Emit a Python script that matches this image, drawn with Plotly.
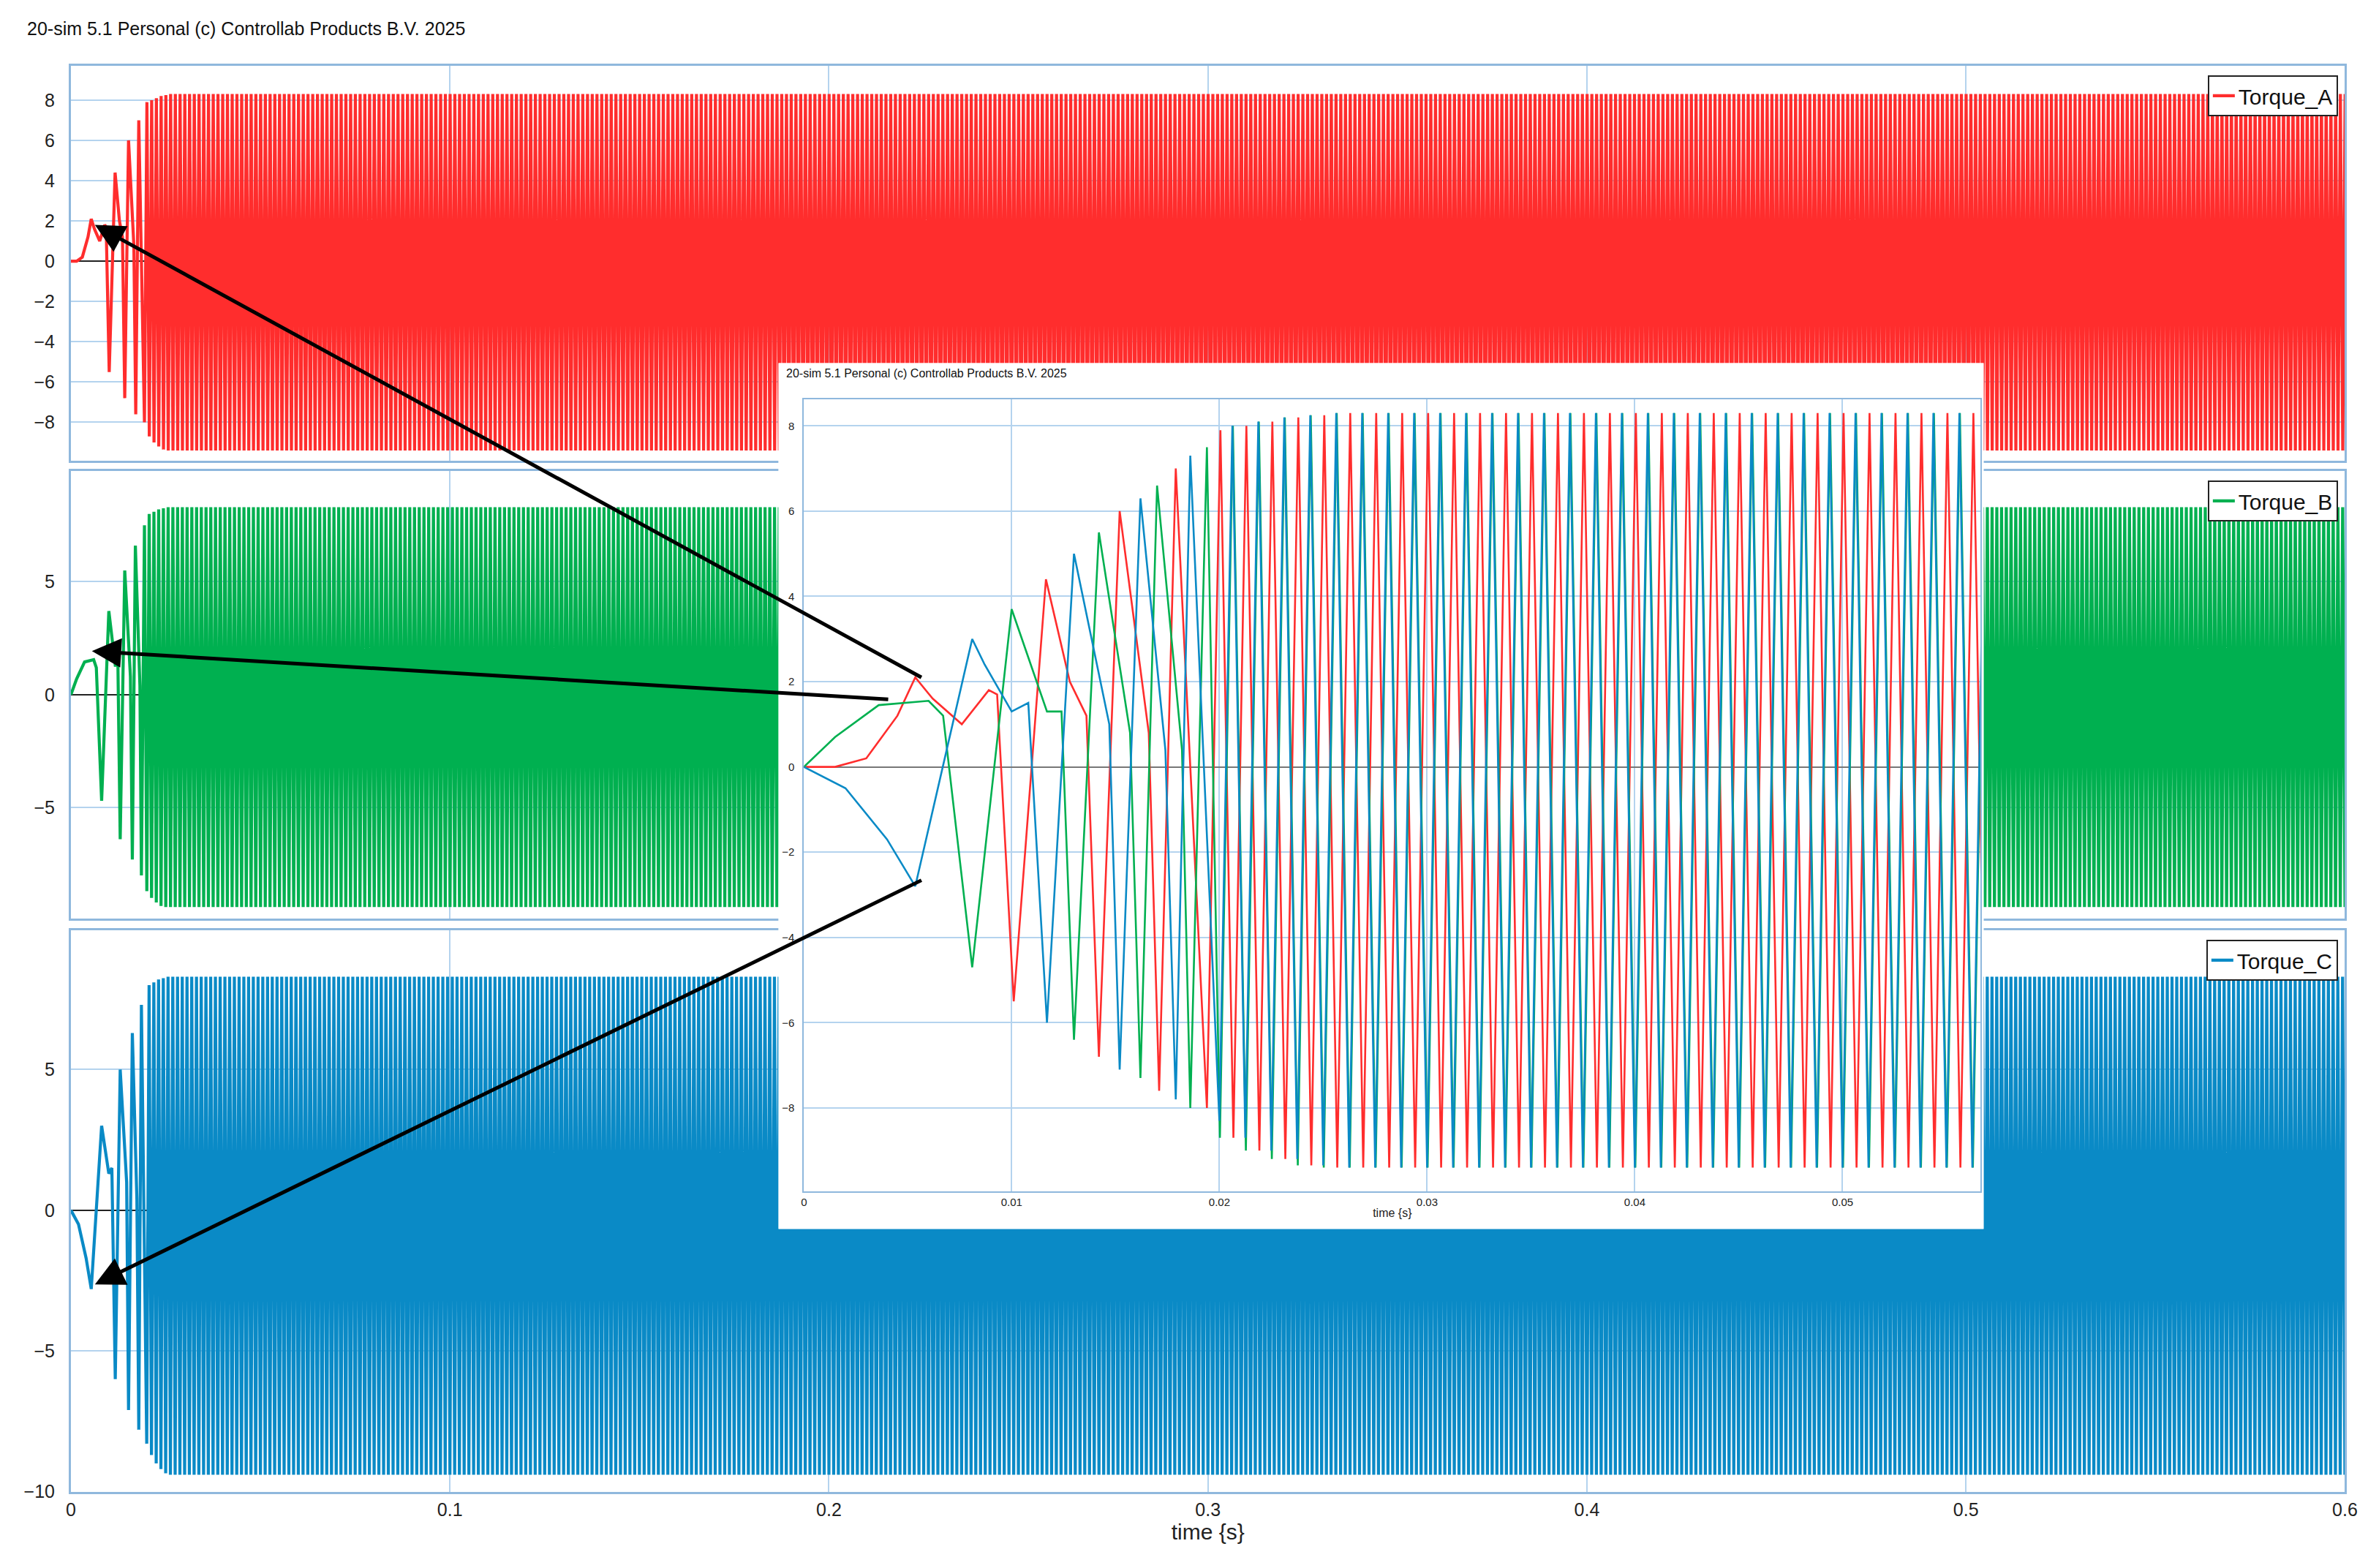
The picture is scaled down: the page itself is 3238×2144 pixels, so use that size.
import plotly.graph_objects as go

# transient (start-up) turning points
red_t = [0, 0.0015, 0.003, 0.0045, 0.00536, 0.0062, 0.0076, 0.0089, 0.0093, 0.0101, 0.01165,
         0.0128, 0.0136, 0.0142, 0.0152, 0.0166, 0.0171, 0.0179, 0.0194, 0.02005]
red_v = [0, 0, 0.2, 1.2, 2.1, 1.6, 1.0, 1.8, 1.7, -5.5, 4.4,
         2.0, 1.2, -6.8, 6.0, 0.8, -7.6, 7.0, -8.0, 7.9]
green_t = [0, 0.0015, 0.0036, 0.006, 0.0067, 0.0081, 0.01, 0.0117, 0.0124, 0.013, 0.0142,
           0.0157, 0.0162, 0.017, 0.0182, 0.0186, 0.0194]
green_v = [0, 0.7, 1.45, 1.55, 1.2, -4.7, 3.7, 1.3, 1.3, -6.4, 5.5,
           0.8, -7.3, 6.6, 0.4, -8.0, 7.5]
blue_t = [0, 0.002, 0.004, 0.00536, 0.0081, 0.0087, 0.01, 0.0108, 0.0117, 0.013, 0.0147,
          0.0152, 0.0162, 0.0174, 0.0179, 0.0186, 0.0200]
blue_v = [0, -0.5, -1.7, -2.8, 3.0, 2.4, 1.3, 1.5, -6.0, 5.0, 1.0,
          -7.1, 6.3, 0.4, -7.8, 7.3, -8.3]

# envelope growth after the transient, then steady state peaks
grow_hi = [8.0, 8.1, 8.2, 8.25]
grow_lo = [-8.7, -9.0, -9.2, -9.35]
steady_hi = 8.3
steady_lo = -9.4
period = 0.00125
t_end = 0.6

names = ["Torque_A", "Torque_B", "Torque_C"]
colors = ["#ff2d2d", "#00b050", "#0a8ac6"]


def extend(ts, vs):
    ts, vs = list(ts), list(vs)
    hi_i = lo_i = 0
    while ts[-1] < t_end:
        t = ts[-1] + period / 2
        if vs[-1] > 0:
            v = grow_lo[lo_i] if lo_i < len(grow_lo) else steady_lo
            lo_i += 1
        else:
            v = grow_hi[hi_i] if hi_i < len(grow_hi) else steady_hi
            hi_i += 1
        ts.append(t)
        vs.append(v)
    return ts, vs


series = [extend(red_t, red_v), extend(green_t, green_v), extend(blue_t, blue_v)]

W, H = 1568.0, 1038.0  # reference drawn at this scale
S = 3238 / W
grid = "#b4d3ee"
frame = "#8fb8dd"
font = "Liberation Sans, Arial, sans-serif"

fig = go.Figure()

main_dom = [[1 - 303 / H, 1 - 40 / H], [1 - 608 / H, 1 - 310 / H], [1 - 990 / H, 1 - 616 / H]]
yranges = [[-9.9, 9.7], [-9.9, 9.9], [-10.0, 9.95]]
ydticks = [2, 5, 5]
legends = ["legend", "legend2", "legend3"]

for i in range(3):
    ts, vs = series[i]
    fig.add_trace(go.Scatter(x=ts, y=vs, mode="lines", name=names[i],
                             line=dict(color=colors[i], width=4.2),
                             xaxis="x" if i == 0 else f"x{i+1}",
                             yaxis="y" if i == 0 else f"y{i+1}",
                             legend=legends[i]))

# white card behind the inset
fig.add_trace(go.Scatter(x=[0, 1, 1, 0, 0], y=[0, 0, 1, 1, 0], fill="toself",
                         fillcolor="white", mode="lines", line=dict(width=0, color="white"),
                         showlegend=False, hoverinfo="skip", xaxis="x4", yaxis="y4"))

for i in range(3):
    ts, vs = series[i]
    fig.add_trace(go.Scatter(x=ts, y=vs, mode="lines", showlegend=False,
                             line=dict(color=colors[i], width=2.6),
                             xaxis="x5", yaxis="y5"))

layout = dict(width=3238, height=2144, margin=dict(l=0, r=0, t=0, b=0),
              paper_bgcolor="white", plot_bgcolor="white",
              font=dict(family=font, size=25, color="#222"))

xd = [40 / W, 1557 / W]
for i in range(3):
    xk = "xaxis" if i == 0 else f"xaxis{i+1}"
    yk = "yaxis" if i == 0 else f"yaxis{i+1}"
    layout[xk] = dict(domain=xd, range=[0, 0.6], dtick=0.1, showgrid=True, gridcolor=grid,
                      gridwidth=2, showline=True, linecolor=frame, linewidth=3, mirror=True,
                      zeroline=False, showticklabels=(i == 2), anchor="y" if i == 0 else f"y{i+1}",
                      tickformat="~g", ticks="")
    layout[yk] = dict(domain=main_dom[i], range=yranges[i], dtick=ydticks[i], showgrid=True,
                      gridcolor=grid, gridwidth=2, showline=True, linecolor=frame, linewidth=3,
                      mirror=True, zeroline=True, zerolinecolor="#222", zerolinewidth=2,
                      anchor="x" if i == 0 else f"x{i+1}", ticks="", ticklabelstandoff=14)
    layout[legends[i]] = dict(x=0.99, xanchor="right", y=main_dom[i][1] - 0.006, yanchor="top",
                              bordercolor="#222", borderwidth=2, bgcolor="white", itemwidth=30,
                              font=dict(size=30, family=font, color="#111"))
layout["xaxis3"]["title"] = dict(text="time {s}", font=dict(size=30), standoff=8)
layout["xaxis3"]["tickfont"] = dict(size=25)

# inset card and inset plot
layout["xaxis4"] = dict(domain=[512 / W, 1316 / W], range=[0, 1], visible=False, anchor="y4")
layout["yaxis4"] = dict(domain=[1 - 815 / H, 1 - 238 / H], range=[0, 1], visible=False, anchor="x4")
layout["xaxis5"] = dict(domain=[529 / W, 1314 / W], range=[0, 0.05665], dtick=0.01, showgrid=True,
                        gridcolor=grid, gridwidth=1.5, showline=True, linecolor=frame, linewidth=2,
                        mirror=True, zeroline=False, anchor="y5", tickfont=dict(size=15),
                        tickformat="~g", ticks="",
                        title=dict(text="time {s}", font=dict(size=16), standoff=2))
layout["yaxis5"] = dict(domain=[1 - 790 / H, 1 - 262 / H], range=[-9.96, 8.63], dtick=2,
                        showgrid=True, gridcolor=grid, gridwidth=1.5, showline=True,
                        linecolor=frame, linewidth=2, mirror=True, zeroline=True,
                        zerolinecolor="#777", zerolinewidth=2, anchor="x5",
                        tickfont=dict(size=15), ticks="", ticklabelstandoff=8)

fig.update_layout(**layout)

fig.add_annotation(text="20-sim 5.1 Personal (c) Controllab Products B.V. 2025", xref="paper",
                   yref="paper", x=10 / W, y=1 - 15 / H, xanchor="left", yanchor="middle",
                   showarrow=False, font=dict(size=25, color="#111"))
fig.add_annotation(text="20-sim 5.1 Personal (c) Controllab Products B.V. 2025", xref="paper",
                   yref="paper", x=516 / W, y=1 - 245 / H, xanchor="left", yanchor="middle",
                   showarrow=False, font=dict(size=16, color="#111"))

arrows = [((604, 446), (56, 146)), ((582, 462), (54, 430)), ((604, 584), (56, 852))]
for (sx, sy), (hx, hy) in arrows:
    fig.add_annotation(x=hx / W, y=1 - hy / H, ax=(sx - hx) * S, ay=(sy - hy) * S, xref="paper",
                       yref="paper", axref="pixel", ayref="pixel", text="", showarrow=True,
                       arrowhead=2, arrowsize=1.6, arrowwidth=5, arrowcolor="black")

fig.write_html("out.html")
